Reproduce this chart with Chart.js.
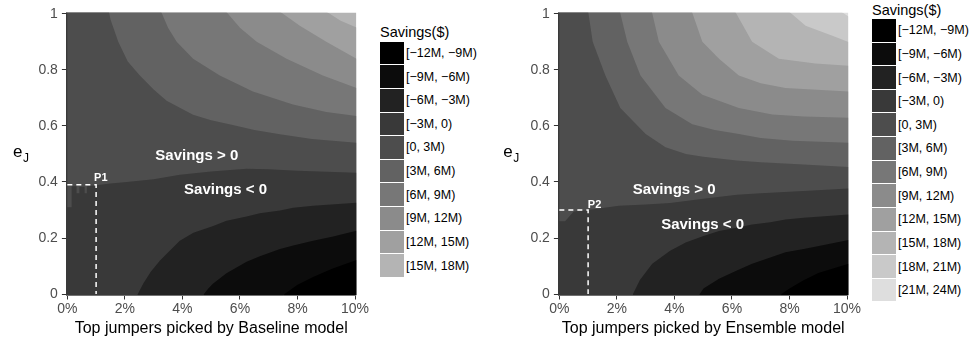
<!DOCTYPE html>
<html>
<head>
<meta charset="utf-8">
<script src="https://cdn.jsdelivr.net/npm/chart.js@4.4.1/dist/chart.umd.min.js"></script>
<style>
  body { margin: 0; background: #fff; width: 971px; height: 343px; position: relative; overflow: hidden;
         font-family: "Liberation Sans", Arial, Helvetica, sans-serif; }
  canvas { position: absolute; top: 0; }
  #baseline { left: 0; }
  #ensemble { left: 492px; }
  .key { position: absolute; top: 0; color: #000; }
  .key .ttl { position: absolute; left: 0; font-size: 14.5px; line-height: 17px; white-space: nowrap; }
  .key .sw { position: absolute; left: 0; width: 24px; }
  .key .lab { position: absolute; left: 26px; font-size: 12.5px; line-height: 16px; white-space: nowrap; }
</style>
</head>
<body>
<canvas id="baseline" width="372" height="343"></canvas>
<canvas id="ensemble" width="372" height="343"></canvas>
<div class="key" id="keyBaseline" style="left:380px"></div>
<div class="key" id="keyEnsemble" style="left:872px"></div>
<script>
// savings bins, $M (lower edge of each bin)
const binLows = [-12, -9, -6, -3, 0, 3, 6, 9, 12, 15, 18, 21];
const binLabels = ['[\u221212M, \u22129M)', '[\u22129M, \u22126M)', '[\u22126M, \u22123M)', '[\u22123M, 0)',
  '[0, 3M)', '[3M, 6M)', '[6M, 9M)', '[9M, 12M)', '[12M, 15M)', '[15M, 18M)', '[18M, 21M)', '[21M, 24M)'];
const binGreys = ['#000000', '#0c0c0c', '#222222', '#393939', '#4d4d4d', '#626262',
  '#777777', '#8b8b8b', '#a0a0a0', '#b4b4b4', '#c9c9c9', '#dedede'];

// x range of the raster (% of top jumpers), half a cell past each end
const X_MIN = -0.05, X_MAX = 10.05;
const CUT_X = 1;                // 1% cut-off
const baselineCutE = 0.39;      // P1
const ensembleCutE = 0.30;      // P2

// iso-savings lines [x %, e_J]; the band under each line is the bin just below its level
// --- Baseline model
const baseM9 = [[-0.05,-0.01],[7.5,-0.01],[7.55,0],[8.0,0.033],[8.54,0.061],[9.2,0.09],[10.05,0.122]];
const baseM6 = [[-0.05,-0.01],[4.72,-0.01],[4.75,0],[4.9,0.02],[5.07,0.038],[5.53,0.074],[6.23,0.115],[6.69,0.135],
  [7.39,0.161],[7.85,0.173],[8.54,0.19],[9.2,0.205],[10.05,0.226]];
const baseM3 = [[-0.05,-0.01],[2.41,-0.01],[2.45,0],[2.64,0.038],[2.9,0.08],[3.22,0.12],[3.91,0.19],[4.38,0.219],
  [5.07,0.243],[5.53,0.262],[6.23,0.277],[6.69,0.288],[7.39,0.298],[7.85,0.308],[8.54,0.315],[10.05,0.326]];
const baseZero = [[-0.05,1.01],[0,1.01],[0,0.31],[0.15,0.31],[0.15,0.385],[0.32,0.385],[0.32,0.36],[0.42,0.36],
  [0.42,0.383],[0.6,0.383],[0.6,0.36],[0.68,0.36],[0.68,0.385],[1.0,0.388],[1.5,0.395],[2.06,0.4],[3.0,0.41],
  [3.91,0.426],[5.0,0.437],[6.23,0.447],[7.0,0.445],[8.0,0.44],[10.05,0.433]];
const baseP3 = [[-0.05,1.01],[1.44,1.01],[1.5,0.98],[1.77,0.9],[2.1,0.83],[2.52,0.78],[3.0,0.73],[3.45,0.69],
  [4.37,0.64],[5.0,0.62],[5.75,0.603],[6.5,0.585],[7.39,0.57],[8.5,0.553],[10.05,0.54]];
const baseP6 = [[-0.05,1.01],[3.25,1.01],[3.5,0.95],[3.8,0.9],[4.37,0.84],[5.3,0.78],[6.45,0.723],[7.84,0.676],
  [9.0,0.65],[10.05,0.635]];
const baseP9 = [[-0.05,1.01],[5.5,1.01],[6.0,0.95],[6.58,0.9],[7.62,0.84],[8.88,0.78],[10.05,0.735]];
const baseP12 = [[-0.05,1.01],[7.36,1.01],[8.08,0.957],[9.0,0.9],[10.05,0.84]];
const baseP15 = [[-0.05,1.01],[8.97,1.01],[9.5,0.975],[10.05,0.951]];

// --- Ensemble model
const ensM9 = [[-0.05,-0.01],[7.68,-0.01],[7.72,0],[8.0,0.02],[8.49,0.049],[9.0,0.075],[10.05,0.108]];
const ensM6 = [[-0.05,-0.01],[4.85,-0.01],[4.88,0],[5.01,0.02],[5.55,0.055],[6.17,0.084],[6.7,0.108],[7.33,0.131],
  [7.86,0.149],[8.49,0.161],[9.02,0.172],[10.05,0.193]];
const ensM3 = [[-0.05,-0.01],[2.53,-0.01],[2.56,0],[2.8,0.05],[3.23,0.108],[3.85,0.155],[4.39,0.184],[5.01,0.207],
  [5.55,0.225],[6.17,0.237],[6.7,0.248],[7.33,0.256],[7.86,0.266],[8.49,0.272],[10.05,0.284]];
const ensZero = [[-0.05,1.01],[0,1.01],[0,0.26],[0.2,0.26],[0.5,0.295],[1.0,0.3],[2.07,0.315],[3.0,0.32],
  [3.85,0.325],[5.0,0.34],[6.17,0.354],[7.0,0.36],[8.49,0.368],[10.05,0.377]];
const ensP3 = [[-0.05,1.01],[1.0,1.01],[1.16,0.9],[1.6,0.78],[2.12,0.664],[3.0,0.571],[3.69,0.524],[4.4,0.5],
  [5.0,0.49],[6.17,0.477],[7.0,0.47],[8.49,0.462],[10.05,0.453]];
const ensP6 = [[-0.05,1.01],[2.1,1.01],[2.36,0.9],[2.82,0.78],[3.69,0.664],[4.62,0.606],[5.4,0.585],[6.24,0.571],
  [7.0,0.557],[8.1,0.547],[10.05,0.54]];
const ensP9 = [[-0.05,1.01],[3.21,1.01],[3.46,0.9],[4.15,0.78],[4.97,0.711],[6.24,0.664],[7.4,0.641],[8.5,0.634],
  [10.05,0.629]];
const ensP12 = [[-0.05,1.01],[4.6,1.01],[4.97,0.9],[5.55,0.84],[6.24,0.78],[7.0,0.752],[7.86,0.735],[10.05,0.723]];
const ensP15 = [[-0.05,1.01],[6.1,1.01],[6.7,0.9],[7.63,0.84],[8.9,0.823],[10.05,0.815]];
const ensP18 = [[-0.05,1.01],[7.96,1.01],[8.56,0.957],[9.49,0.922],[10.05,0.899]];
const ensP21 = [[-0.05,1.01],[9.76,1.01],[10.05,0.99]];

const baselineLines = [[-9, baseM9], [-6, baseM6], [-3, baseM3], [0, baseZero], [3, baseP3],
  [6, baseP6], [9, baseP9], [12, baseP12], [15, baseP15]];
const ensembleLines = [[-9, ensM9], [-6, ensM6], [-3, ensM3], [0, ensZero], [3, ensP3], [6, ensP6],
  [9, ensP9], [12, ensP12], [15, ensP15], [18, ensP18], [21, ensP21]];

const FONT = '"Liberation Sans", Arial, Helvetica, sans-serif';
Chart.defaults.font.family = FONT;

// text drawn on top of the bands, placed in data coordinates
const notesPlugin = {
  id: 'notes',
  afterDatasetsDraw(chart, args, opts) {
    const {ctx, scales: {x, y}} = chart;
    ctx.save();
    ctx.fillStyle = '#fff';
    ctx.textBaseline = 'middle';
    for (const n of opts.items || []) {
      ctx.font = `bold ${n.size}px ${FONT}`;
      ctx.textAlign = n.align;
      ctx.fillText(n.text, x.getPixelForValue(n.x), y.getPixelForValue(n.y));
    }
    ctx.restore();
  },
  afterDraw(chart, args, opts) {
    // horizontal y-axis title: e with subscript J
    const ctx = chart.ctx;
    const tx = opts.titleX;
    ctx.save();
    ctx.fillStyle = '#000';
    ctx.textBaseline = 'alphabetic';
    ctx.textAlign = 'left';
    ctx.font = `17px ${FONT}`;
    ctx.fillText('e', tx, 157);
    const w = ctx.measureText('e').width;
    ctx.font = `12px ${FONT}`;
    ctx.fillText('J', tx + w + 0.5, 162);
    ctx.restore();
  }
};

function makeChart(id, lines, topBin, cutE, xTitle, notes, titleX) {
  const datasets = [{
    // cut-off guide
    data: [{x: X_MIN + 0.05, y: cutE}, {x: CUT_X, y: cutE}, {x: CUT_X, y: 0}],
    borderColor: '#fff', borderWidth: 1.5, borderDash: [5, 4], pointRadius: 0, fill: false, tension: 0
  }];
  for (const [level, pts] of lines) {
    datasets.push({
      data: pts.map(([x, y]) => ({x, y})),
      backgroundColor: binGreys[binLows.indexOf(level) - 1],
      borderColor: 'transparent', borderWidth: 0, pointRadius: 0, fill: 'start', tension: 0
    });
  }
  // highest band fills whatever is above the last line
  datasets.push({
    data: [{x: X_MIN, y: 1.01}, {x: X_MAX, y: 1.01}],
    backgroundColor: binGreys[topBin],
    borderColor: 'transparent', borderWidth: 0, pointRadius: 0, fill: 'start'
  });

  const tickFont = {size: 14, family: FONT};
  return new Chart(document.getElementById(id), {
    type: 'line',
    data: {datasets},
    options: {
      responsive: false,
      animation: false,
      events: [],
      layout: {padding: {left: 0, top: 8, right: 15.5, bottom: 0}},
      plugins: {legend: {display: false}, tooltip: {enabled: false}, notes: {items: notes, titleX}},
      scales: {
        x: {
          type: 'linear', min: X_MIN, max: X_MAX,
          ticks: {stepSize: 2, includeBounds: false, color: '#4d4d4d', font: tickFont, padding: 1,
                  maxRotation: 0, callback: v => v + '%'},
          grid: {drawOnChartArea: false, tickLength: 4, color: '#333'},
          border: {display: false},
          title: {display: true, text: xTitle, color: '#000', font: {size: 16, family: FONT},
                  padding: {top: 0, bottom: 5}},
          afterFit: s => { s.height = 47.5; }
        },
        y: {
          type: 'linear', min: -0.005, max: 1.005,
          ticks: {stepSize: 0.2, includeBounds: false, color: '#4d4d4d', font: tickFont, padding: 4,
                  callback: v => String(+v.toFixed(1))},
          grid: {drawOnChartArea: false, tickLength: 4, color: '#333'},
          border: {display: false},
          afterFit: s => { s.width = 65.9; }
        }
      }
    },
    plugins: [notesPlugin]
  });
}

makeChart('baseline', baselineLines, 9, baselineCutE, 'Top jumpers picked by Baseline model', [
  {text: 'Savings > 0', x: 4.5, y: 0.492, size: 15, align: 'center'},
  {text: 'Savings < 0', x: 5.5, y: 0.372, size: 15, align: 'center'},
  {text: 'P1', x: 0.93, y: 0.413, size: 11, align: 'left'}
], 13);

makeChart('ensemble', ensembleLines, 11, ensembleCutE, 'Top jumpers picked by Ensemble model', [
  {text: 'Savings > 0', x: 3.99, y: 0.372, size: 15, align: 'center'},
  {text: 'Savings < 0', x: 4.98, y: 0.248, size: 15, align: 'center'},
  {text: 'P2', x: 0.99, y: 0.318, size: 11, align: 'left'}
], 11.3);

// colour keys
function makeKey(id, nBins, titleMid, firstTop) {
  const el = document.getElementById(id);
  const step = 23.62;
  let html = `<div class="ttl" style="top:${titleMid - 8.5}px">Savings($)</div>`;
  for (let i = 0; i < nBins; i++) {
    const top = firstTop + i * step;
    html += `<div class="sw" style="top:${top}px;height:${step - 1}px;background:${binGreys[i]}"></div>`;
    html += `<div class="lab" style="top:${top + step / 2 - 8.5}px">${binLabels[i]}</div>`;
  }
  el.innerHTML = html;
}
makeKey('keyBaseline', 10, 32, 41.7);
makeKey('keyEnsemble', 12, 10, 19);
</script>
</body>
</html>
